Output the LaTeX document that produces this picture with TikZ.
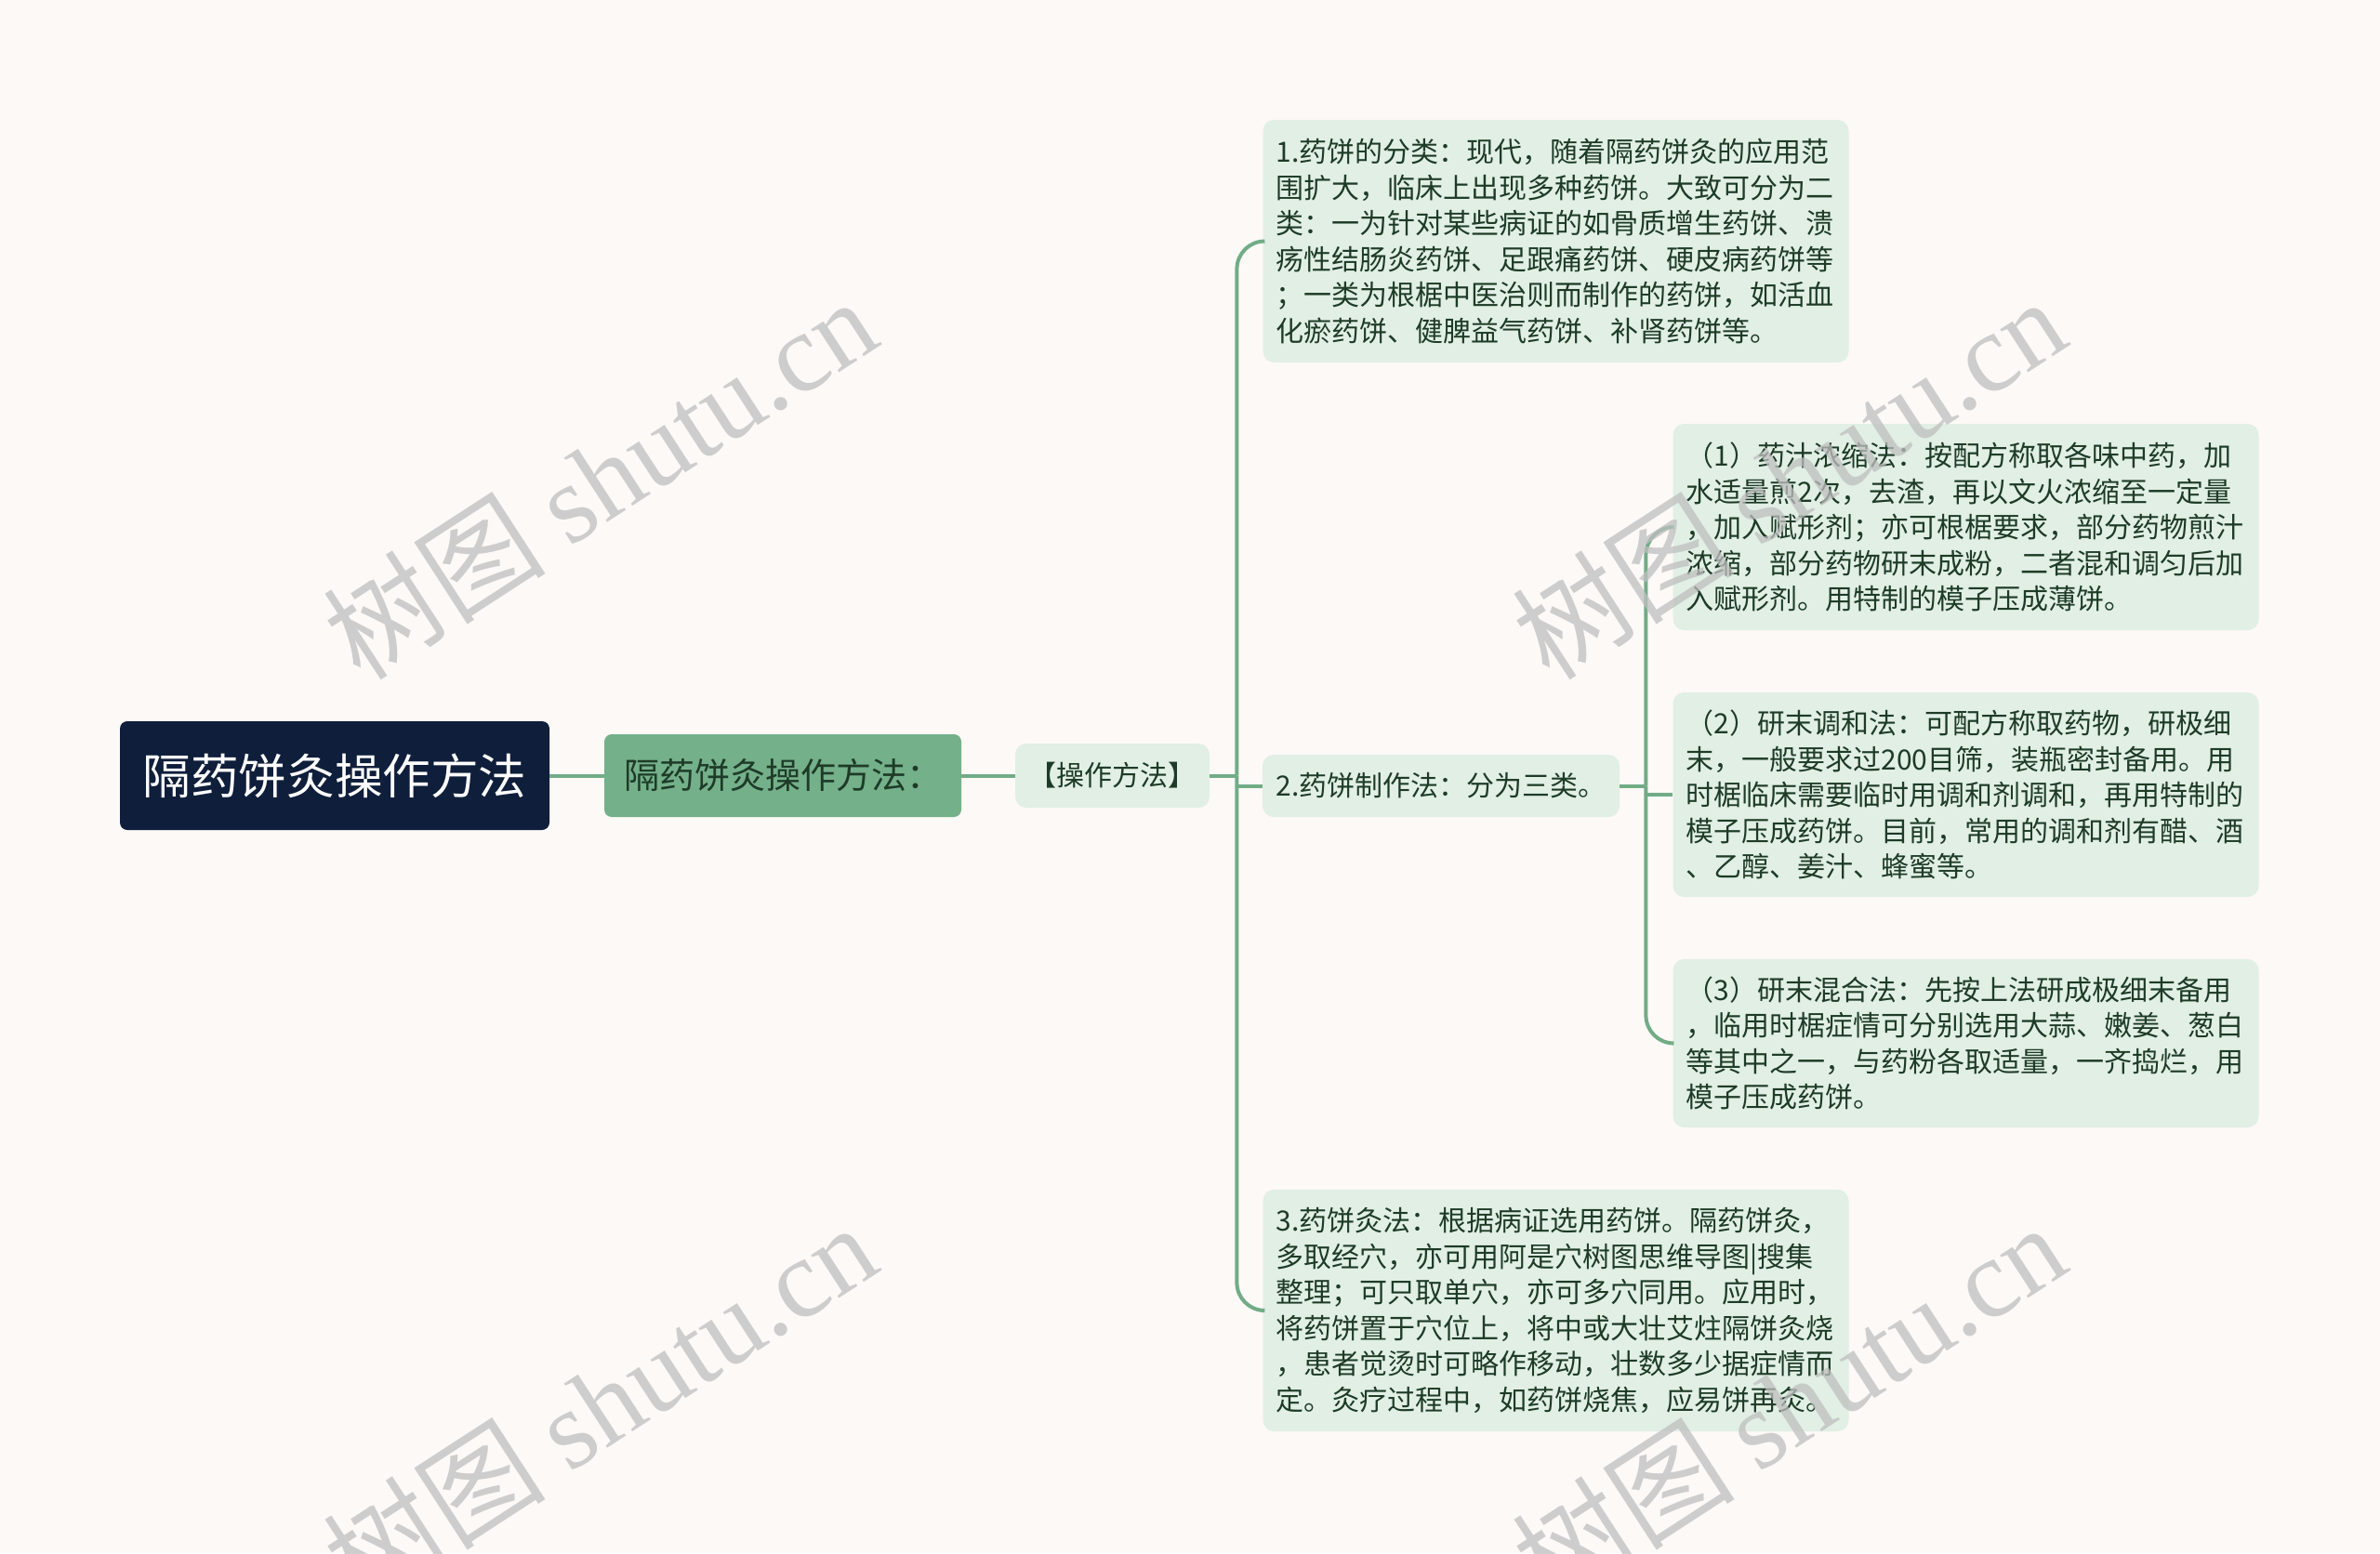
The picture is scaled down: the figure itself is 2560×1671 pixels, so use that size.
\documentclass[tikz,border=0pt]{standalone}
\usepackage{fontspec}
\setmainfont{Noto Sans CJK SC}
\newfontfamily\wmfont{Liberation Serif}
\usetikzlibrary{positioning, calc}

\definecolor{bgcol}{HTML}{FCF9F7}
\definecolor{rootcol}{HTML}{0F1E3A}
\definecolor{maincol}{HTML}{74B08A}
\definecolor{leafcol}{HTML}{E1EFE5}
\definecolor{inkcol}{HTML}{1E3B27}
\definecolor{linecol}{HTML}{72AC87}

\begin{document}
\begin{tikzpicture}[x=0.5pt, y=-0.5pt,
  rootbox/.style = {fill=rootcol, rounded corners=4pt, text=white, font=\fontsize{25.8}{30}\selectfont, minimum width=231pt, minimum height=58.5pt},
  mainbox/.style = {fill=maincol, rounded corners=4pt, text=inkcol, font=\fontsize{19}{23}\selectfont, minimum width=192pt, minimum height=44.5pt},
  tagbox/.style = {fill=leafcol, rounded corners=6pt, text=inkcol, font=\fontsize{15}{19}\selectfont, minimum width=104.5pt, minimum height=34.5pt},
  leafbox/.style = {fill=leafcol, rounded corners=6pt, text=inkcol, font=\fontsize{15}{19.25}\selectfont, align=left, text width=301pt, inner xsep=7pt, inner ysep=4pt},
  link/.style = {draw=linecol, line width=2pt, rounded corners=15pt},
  wmark/.style = {text=gray!50, opacity=0.75, rotate=33, font=\fontsize{60}{60}\selectfont}
]
\fill[bgcol] (0,0) rectangle (2560,1671);
\useasboundingbox (0,0) rectangle (2560,1671);
\node[rootbox] (root) at (360,834.5) {隔药饼灸操作方法};
\node[mainbox] (main) at (842,834.5) {隔药饼灸操作方法：};
\node[tagbox] (ops) at (1196.5,834.5) {【操作方法】};
\node[tagbox, minimum width=192pt, minimum height=33.5pt] (make) at (1550,845.5) {2.药饼制作法：分为三类。};
\node[leafbox, minimum height=130.5pt] (cls) at (1673.5,259.5) {1.药饼的分类：现代，随着隔药饼灸的应用范\\围扩大，临床上出现多种药饼。大致可分为二\\类：一为针对某些病证的如骨质增生药饼、溃\\疡性结肠炎药饼、足跟痛药饼、硬皮病药饼等\\；一类为根椐中医治则而制作的药饼，如活血\\化瘀药饼、健脾益气药饼、补肾药饼等。};
\node[leafbox, minimum height=130pt] (moxa) at (1673.5,1410) {3.药饼灸法：根据病证选用药饼。隔药饼灸，\\多取经穴，亦可用阿是穴树图思维导图|搜集\\整理；可只取单穴，亦可多穴同用。应用时，\\将药饼置于穴位上，将中或大壮艾炷隔饼灸烧\\，患者觉烫时可略作移动，壮数多少据症情而\\定。灸疗过程中，如药饼烧焦，应易饼再灸。};
\node[leafbox, minimum height=111pt] (sub1) at (2114.5,567) {（1）药汁浓缩法：按配方称取各味中药，加\\水适量煎2次，去渣，再以文火浓缩至一定量\\，加入赋形剂；亦可根椐要求，部分药物煎汁\\浓缩，部分药物研末成粉，二者混和调匀后加\\入赋形剂。用特制的模子压成薄饼。};
\node[leafbox, minimum height=110pt] (sub2) at (2114.5,855) {（2）研末调和法：可配方称取药物，研极细\\末，一般要求过200目筛，装瓶密封备用。用\\时椐临床需要临时用调和剂调和，再用特制的\\模子压成药饼。目前，常用的调和剂有醋、酒\\、乙醇、姜汁、蜂蜜等。};
\node[leafbox, minimum height=90.5pt] (sub3) at (2114.5,1122.5) {（3）研末混合法：先按上法研成极细末备用\\，临用时椐症情可分别选用大蒜、嫩姜、葱白\\等其中之一，与药粉各取适量，一齐捣烂，用\\模子压成药饼。};
\draw[link] (root) -- (main);
\draw[link] (main) -- (ops);
\draw[link] (ops.east) -- ++(29,0) coordinate (hub);
\draw[link] (hub) |- (cls.west);
\draw[link] (hub) |- (moxa.west);
\draw[link] (make.west -| hub) -- (make.west);
\draw[link] (make.east) -- ++(28,0) coordinate (hub2);
\draw[link] (hub2) |- (sub1.west);
\draw[link] (hub2) |- (sub3.west);
\draw[link] (sub2.west -| hub2) -- (sub2.west);
\node[wmark] (wm1) at (645,514) {树图 {\wmfont shutu.cn}};
\node[wmark] (wm2) at (1924,514) {树图 {\wmfont shutu.cn}};
\node[wmark] (wm3) at (645,1510) {树图 {\wmfont shutu.cn}};
\node[wmark] (wm4) at (1924,1510) {树图 {\wmfont shutu.cn}};
\end{tikzpicture}
\end{document}
